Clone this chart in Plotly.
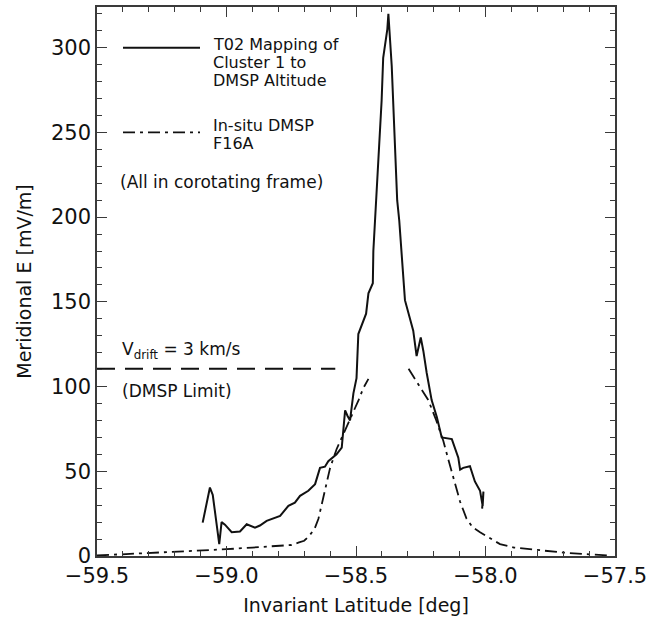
import plotly.graph_objects as go

# ---- data ----
t02_lat = [-59.092, -59.064, -59.053, -59.028, -59.019, -59.006, -58.980, -58.948,
           -58.922, -58.890, -58.871, -58.845, -58.793, -58.761, -58.736, -58.716,
           -58.684, -58.658, -58.639, -58.620, -58.607, -58.575, -58.555, -58.542,
           -58.533, -58.523, -58.510, -58.498, -58.491, -58.461, -58.452, -58.435,
           -58.433, -58.401, -58.395, -58.379, -58.375, -58.371, -58.362, -58.341,
           -58.333, -58.311, -58.292, -58.279, -58.266, -58.250, -58.240, -58.227,
           -58.208, -58.188, -58.169, -58.130, -58.105, -58.098, -58.086, -58.060,
           -58.041, -58.021, -58.011, -58.008, -58.013]
t02_e = [19.7, 40.4, 36.0, 7.0, 20.0, 18.5, 14.0, 14.5,
         18.7, 16.7, 18.0, 20.7, 23.7, 29.6, 31.5, 35.5,
         38.5, 42.4, 52.0, 52.7, 56.0, 60.0, 64.0, 86.0,
         82.8, 80.0, 96.0, 105.0, 131.0, 143.0, 155.0, 161.0,
         180.0, 269.0, 294.0, 311.0, 320.0, 310.0, 289.0, 210.0,
         198.0, 151.0, 141.0, 133.0, 118.0, 129.0, 121.0, 108.0,
         92.0, 82.0, 70.0, 69.0, 58.0, 51.0, 52.0, 53.0,
         44.0, 38.5, 29.6, 38.0, 28.0]

dmsp_left_lat = [-59.5, -59.4, -59.3, -59.2, -59.1, -59.0, -58.9, -58.8, -58.75,
                 -58.72, -58.70, -58.68, -58.66, -58.645, -58.633, -58.62, -58.60,
                 -58.575, -58.549, -58.517, -58.49, -58.472, -58.452]
dmsp_left_e = [0.3, 1.0, 1.5, 2.5, 3.0, 4.0, 5.0, 6.0, 6.5,
               8.0, 9.0, 12.0, 16.0, 22.0, 30.0, 40.0, 52.0,
               63.0, 72.0, 82.0, 92.0, 99.0, 104.5]
dmsp_right_lat = [-58.297, -58.270, -58.240, -58.221, -58.190, -58.163, -58.140,
                  -58.124, -58.098, -58.073, -58.050, -58.021, -57.98, -57.944,
                  -57.89, -57.80, -57.70, -57.60, -57.52]
dmsp_right_e = [110.5, 104.0, 97.0, 92.0, 80.0, 68.0, 55.0,
                46.0, 32.0, 22.0, 17.0, 14.0, 10.0, 7.0,
                5.0, 3.5, 2.0, 1.0, 0.3]

limit_lat = [-59.5, -58.58]
limit_e = [110.5, 110.5]

x_ticks = [-59.5, -59.0, -58.5, -58.0, -57.5]
y_ticks = [0, 50, 100, 150, 200, 250, 300]

# ---- figure ----
W, H = 647, 624
ML, MR, MT, MB = 97, 32, 7, 68
XR = [-59.5, -57.5]
YR = [0, 324]
FONT = "DejaVu Sans"
INK = "#111111"
AX = "#3a3a3a"

def px2x(px):
    return XR[0] + (px - ML) / (W - ML - MR) * (XR[1] - XR[0])

def py2y(py):
    return YR[0] + (H - MB - py) / (H - MT - MB) * (YR[1] - YR[0])

fig = go.Figure()
fig.add_trace(go.Scatter(x=t02_lat, y=t02_e, mode="lines",
                         line=dict(color=INK, width=2), showlegend=False))
dd = "12px,5px,3px,5px"
fig.add_trace(go.Scatter(x=dmsp_left_lat, y=dmsp_left_e, mode="lines",
                         line=dict(color=INK, width=1.8, dash=dd), showlegend=False))
fig.add_trace(go.Scatter(x=dmsp_right_lat, y=dmsp_right_e, mode="lines",
                         line=dict(color=INK, width=1.8, dash=dd), showlegend=False))
fig.add_trace(go.Scatter(x=limit_lat, y=limit_e, mode="lines",
                         line=dict(color=INK, width=1.8, dash="18px,10px"), showlegend=False))

# legend keys
fig.add_trace(go.Scatter(x=[px2x(123), px2x(200)], y=[300, 300], mode="lines",
                         line=dict(color=INK, width=2), showlegend=False))
fig.add_trace(go.Scatter(x=[px2x(123), px2x(200)], y=[250, 250], mode="lines",
                         line=dict(color=INK, width=1.8, dash=dd), showlegend=False))

def label(text, px, py, size=16):
    fig.add_annotation(x=px2x(px), y=py2y(py), xref="x", yref="y", text=text,
                       showarrow=False, xanchor="left", yanchor="middle",
                       font=dict(family=FONT, size=size, color=INK))

label("T02 Mapping of", 211, 44)
label("Cluster 1 to", 211, 62)
label("DMSP Altitude", 211, 80)
label("In-situ DMSP", 211, 125)
label("F16A", 211, 143)
label("(All in corotating frame)", 118, 182, 17)
label("V<sub>drift</sub> = 3 km/s", 120, 350, 17)
label("(DMSP Limit)", 120, 391, 17)

axis_common = dict(showline=True, linecolor=AX, linewidth=1.5, mirror="allticks",
                   ticks="inside", ticklen=10, tickwidth=1.3, tickcolor=AX,
                   showgrid=False, zeroline=False, ticklabeloverflow="allow",
                   tickfont=dict(family=FONT, size=21, color=INK))
fig.update_xaxes(range=XR, tickvals=x_ticks, tickformat=".1f",
                 minor=dict(dtick=0.1, ticks="inside", ticklen=5, tickcolor=AX, showgrid=False),
                 title=dict(text="Invariant Latitude [deg]", font=dict(family=FONT, size=19, color=INK),
                            standoff=12),
                 **axis_common)
fig.update_yaxes(range=YR, tickvals=y_ticks,
                 minor=dict(dtick=10, ticks="inside", ticklen=5, tickcolor=AX, showgrid=False),
                 title=dict(text="Meridional E [mV/m]", font=dict(family=FONT, size=19, color=INK),
                            standoff=14),
                 **axis_common)

fig.update_layout(width=W, height=H, margin=dict(l=ML, r=MR, t=MT, b=MB, autoexpand=False),
                  plot_bgcolor="white", paper_bgcolor="white", showlegend=False)

fig.write_html("out.html", config={"displayModeBar": False},
               post_script="document.body.style.margin='0';")
